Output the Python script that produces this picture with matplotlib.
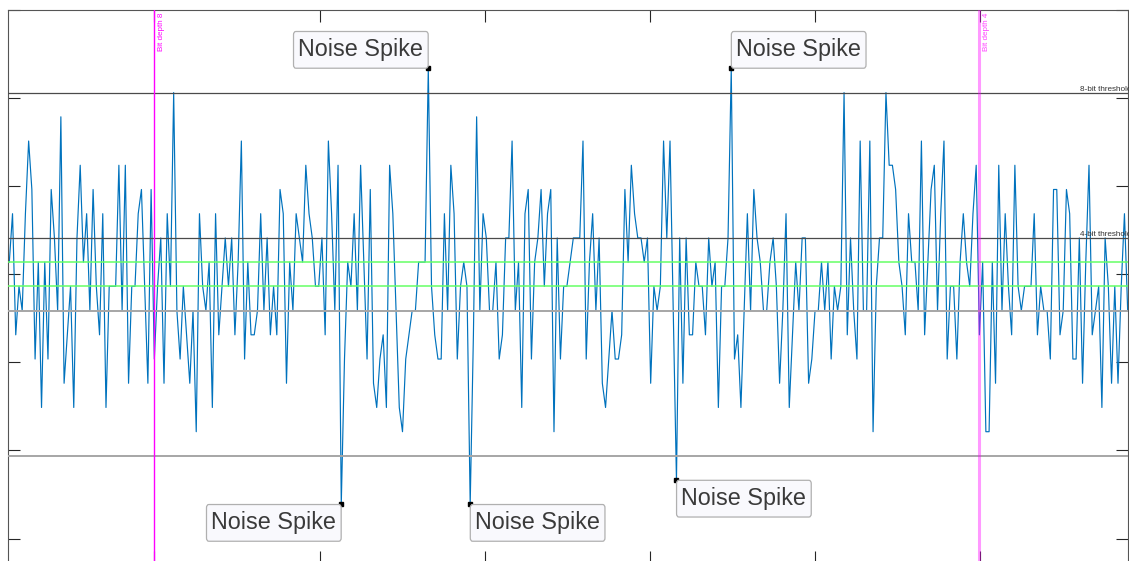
# Quantized noise trace with threshold lines and spike callouts

import numpy as np
import matplotlib.pyplot as plt
from matplotlib import transforms

plt.rcParams['font.family'] = ['Liberation Sans', 'DejaVu Sans']

# 4-bit sample codes (spikes run past 0..15)
codes = [
    8, 10, 5, 7, 6, 10, 13, 11, 4, 8,
    2, 8, 4, 11, 9, 6, 14, 3, 5, 7,
    2, 9, 12, 8, 10, 6, 11, 7, 5, 10,
    2, 7, 7, 7, 12, 6, 12, 3, 7, 7,
    10, 11, 7, 3, 11, 4, 7, 9, 3, 10,
    7, 15, 6, 4, 7, 5, 3, 6, 1, 10,
    7, 6, 8, 2, 10, 5, 7, 9, 7, 9,
    5, 8, 13, 4, 8, 5, 5, 6, 10, 6,
    9, 5, 7, 5, 11, 10, 3, 8, 6, 10,
    9, 8, 12, 10, 9, 7, 7, 9, 5, 13,
    10, 6, 12, -2, 4, 8, 7, 10, 6, 12,
    8, 4, 11, 3, 2, 4, 5, 2, 12, 10,
    6, 2, 1, 4, 5, 6, 6, 8, 8, 8,
    16, 7, 5, 4, 4, 10, 6, 12, 10, 4,
    7, 8, 7, -2, 5, 14, 6, 10, 9, 6,
    6, 8, 4, 5, 9, 9, 13, 6, 8, 2,
    10, 11, 4, 8, 9, 11, 7, 10, 11, 1,
    9, 4, 7, 7, 8, 9, 9, 9, 13, 4,
    8, 10, 6, 9, 3, 2, 4, 6, 4, 4,
    5, 11, 8, 12, 10, 9, 9, 8, 9, 3,
    7, 6, 7, 13, 9, 13, 6, -1, 9, 3,
    9, 5, 5, 8, 7, 7, 5, 9, 7, 8,
    2, 7, 7, 9, 16, 4, 5, 2, 6, 10,
    6, 11, 9, 8, 6, 6, 8, 9, 7, 3,
    6, 10, 2, 5, 8, 6, 9, 9, 3, 4,
    6, 6, 8, 6, 8, 4, 7, 6, 7, 15,
    5, 9, 6, 4, 13, 6, 6, 13, 1, 7,
    9, 9, 15, 12, 12, 11, 8, 7, 5, 10,
    8, 8, 6, 13, 5, 8, 11, 12, 6, 10,
    13, 4, 7, 7, 4, 8, 10, 8, 7, 10,
    12, 5, 8, 1, 1, 8, 3, 12, 6, 10,
    7, 5, 12, 7, 6, 7, 7, 7, 10, 5,
    7, 6, 6, 4, 11, 11, 5, 6, 11, 10,
    4, 4, 9, 3, 8, 12, 5, 6, 7, 2,
    9, 7, 3, 7, 3, 7, 10, 6,
]
level_step = 0.1375
mid_code = 7.5

# labelled spikes and the corner of the point the callout sits on
spike_idx = [130, 224, 103, 143, 207]
spike_side = ['upper left', 'upper right', 'lower left', 'lower right', 'lower right']
spike_label = 'Noise Spike'

threshold_codes = [15, 9]
threshold_names = ['8-bit threshold', '4-bit threshold']
lower_codes = [6, 0]
band_codes = [7, 8]

bit_depth_x = [45, 301]
bit_depth_names = ['Bit depth 8', 'Bit depth 4']


def to_value(c):
    return (np.asarray(c, dtype=float) - mid_code) * level_step


sample_idx = np.arange(len(codes))
signal = to_value(codes)

W, H = 1129, 561
fig = plt.figure(figsize=(W / 100, H / 100), dpi=100)
ax = fig.add_axes([8.3 / W, 1 - 563 / H, (1128 - 8.3) / W, 553 / H])

ax.plot(sample_idx, signal, color='#0072BD', lw=0.85, zorder=2)

# threshold lines
blend_y = transforms.blended_transform_factory(ax.transAxes, ax.transData)
for c, name in zip(threshold_codes, threshold_names):
    ax.axhline(to_value(c), color='#4a4a4a', lw=0.9, zorder=3)
    ax.text(0.957, to_value(c), name, transform=blend_y, ha='left', va='bottom',
            fontsize=5.9, color='#333333', clip_on=False, zorder=3)
for c in lower_codes:
    ax.axhline(to_value(c), color='#a6a6a6', lw=1.4, zorder=3)
for c in band_codes:
    ax.axhline(to_value(c), color='#66ff66', lw=1.1, zorder=3)

# bit depth markers
blend_x = transforms.blended_transform_factory(ax.transData, ax.transAxes)
styles = [dict(lw=1.0, alpha=1.0), dict(lw=2.2, alpha=0.4)]
for x, name, st in zip(bit_depth_x, bit_depth_names, styles):
    ax.axvline(x, color='#ff00ff', zorder=4, **st)
    ax.annotate(name, xy=(x, 1), xycoords=blend_x, xytext=(3.5, -3),
                textcoords='offset pixels', rotation=90, ha='left', va='top',
                fontsize=5.8, color='#ff00ff', alpha=max(st['alpha'], 0.75), zorder=4)

# spike callouts (box is stretched vertically a bit, like the original)
for idx, side in zip(spike_idx, spike_side):
    x, y = sample_idx[idx], signal[idx]
    ax.plot(x, y, 's', color='black', ms=2.2, zorder=6)
    ha = 'right' if 'left' in side else 'left'
    va = 'bottom' if 'upper' in side else 'top'
    dx = -5 if ha == 'right' else 5
    dy = 7 if va == 'bottom' else -7
    ax.annotate(spike_label, xy=(x, y), xytext=(dx, dy), textcoords='offset pixels',
                ha=ha, va=va, fontsize=16.8, color='#3a3a3a', zorder=7,
                bbox=dict(boxstyle='round,pad=0.21,rounding_size=0.1',
                          mutation_aspect=1.4,
                          fc='#f9f9fd', ec='#b0b0b0', lw=0.9))

ax.set_xlim(-0.31, 347.1)
ax.set_ylim(-1.639, 1.5)
ax.set_xticks(np.arange(45.05, 348, 51.2))
ax.set_yticks(np.arange(-1.5, 1.51, 0.5))
ax.tick_params(direction='in', length=8.6, width=0.8, color='#262626',
               top=True, right=True, labelbottom=False, labelleft=False)
for sp in ax.spines.values():
    sp.set_color('#555555')
    sp.set_linewidth(0.8)

fig.savefig('out.png', dpi=100)
